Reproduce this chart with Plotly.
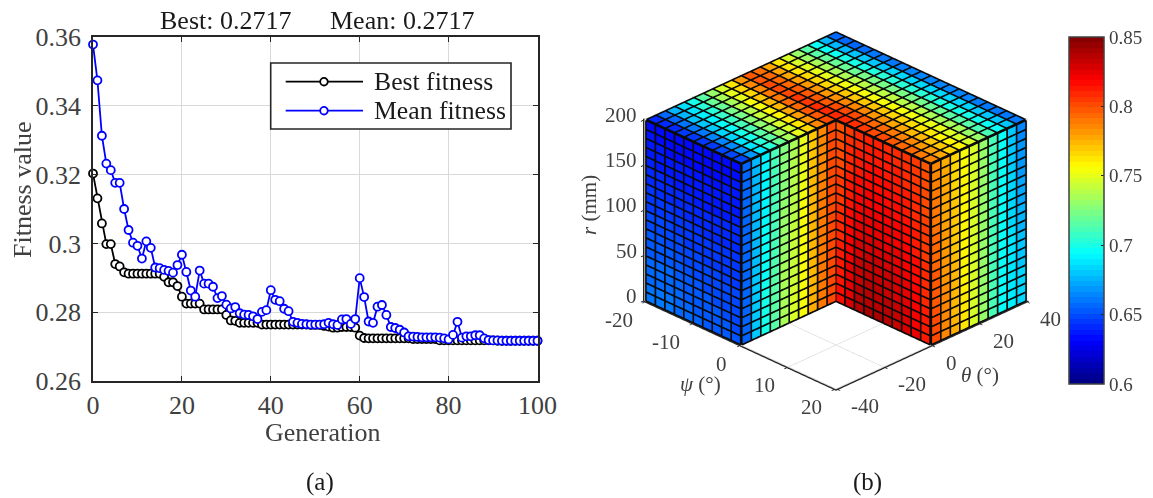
import plotly.graph_objects as go

W, H = 1153, 498
ML, MR, MT, MB = 60, 90, 10, 70
SERIF = "Liberation Serif"
INK = "#404040"
AX = "#262626"


def fx(px):
    return (px - ML) / (W - ML - MR)


def fy(py):
    return (H - MB - py) / (H - MT - MB)


generation = list(range(101))
best_fitness = [.3203,.3131,.3058,.2998,.2998,.2940,.2933,.2916,.2912,.2912,.2912,.2912,.2912,.2912,.2912,.2912,.2903,.2887,.2887,.2876,
 .2845,.2825,.2825,.2825,.2825,.2808,.2808,.2808,.2808,.2808,.2792,.2776,.2775,.2769,.2769,.2769,.2769,.2769,.2764,.2764,
 .2764,.2764,.2764,.2764,.2764,.2764,.2764,.2764,.2764,.2763,.2763,.2763,.2760,.2758,.2755,.2755,.2757,.2757,.2757,.2755,
 .2732,.2725,.2724,.2724,.2724,.2724,.2724,.2724,.2724,.2724,.2724,.2724,.2722,.2722,.2722,.2722,.2722,.2722,.2718,.2718,
 .2718,.2718,.2718,.2718,.2718,.2718,.2718,.2718,.2718,.2718,.2718,.2717,.2717,.2717,.2717,.2717,.2717,.2717,.2717,.2717,.2717]
mean_fitness = [.3578,.3474,.3313,.3232,.3213,.3176,.3176,.3100,.3039,.3002,.2993,.2956,.3006,.2987,.2930,.2928,.2923,.2920,.2915,.2937,
 .2967,.2917,.2863,.2845,.2921,.2883,.2883,.2874,.2841,.2847,.2822,.2811,.2815,.2797,.2793,.2792,.2788,.2780,.2801,.2806,
 .2864,.2836,.2832,.2810,.2803,.2772,.2769,.2766,.2765,.2764,.2764,.2764,.2765,.2769,.2765,.2763,.2779,.2780,.2766,.2780,
 .2899,.2844,.2773,.2769,.2816,.2821,.2792,.2757,.2754,.2749,.2741,.2730,.2729,.2728,.2727,.2727,.2727,.2727,.2726,.2724,
 .2721,.2734,.2772,.2726,.2730,.2730,.2733,.2733,.2724,.2719,.2718,.2718,.2717,.2717,.2717,.2717,.2717,.2717,.2717,.2717,.2717]

x_ticks = [0, 20, 40, 60, 80, 100]
y_ticks = [.26, .28, .30, .32, .34, .36]
y_labels = ["0.26", "0.28", "0.3", "0.32", "0.34", "0.36"]
psi_ticks = [-20, -10, 0, 10, 20]
theta_ticks = [-40, -20, 0, 20, 40]
r_ticks = [0, 50, 100, 150, 200]
cbar_ticks = [.6, .65, .7, .75, .8, .85]
cbar_labels = ["0.6", "0.65", "0.7", "0.75", "0.8", "0.85"]

psi_edges = [-20 + 2 * i for i in range(21)]
theta_edges = [-40 + 4 * i for i in range(21)]
r_edges = [10 * i for i in range(21)]

# cell values (per column at r=200 and r=0; rows listed top to bottom)
row_blend = [0,.05,.1,.15,.2,.25,.3,.36,.42,.48,.54,.6,.66,.72,.78,.83,.88,.92,.96,1]
left_top = [.634,.633,.632,.632,.632,.632,.632,.632,.633,.634]
left_bottom = [.66,.66,.66,.658,.656,.655,.654,.653,.652,.651]
front_top = [.655,.675,.69,.71,.725,.735,.75,.77,.785,.80]
front_bottom = [.655,.68,.70,.715,.735,.745,.755,.775,.79,.80]
red_top = [.798,.805,.808,.81,.81,.809,.808,.806,.803,.798]
red_bottom = [.815,.826,.836,.838,.838,.836,.832,.828,.822,.812]
right_top = [.785,.775,.765,.755,.745,.73,.71,.695,.68,.665]
right_bottom = [.80,.785,.775,.76,.745,.73,.71,.695,.69,.685]
top_psi_m20 = [.64,.655,.675,.685,.70,.715,.73,.745,.76,.78,.795,.79,.775,.76,.745,.73,.715,.695,.675,.655]
top_psi_0 = [.65,.67,.69,.705,.72,.735,.75,.765,.785,.80,.81,.80,.785,.77,.755,.74,.725,.705,.685,.665]
top_psi_p20 = [.65,.67,.69,.705,.72,.735,.75,.765,.78,.79,.785,.775,.765,.755,.745,.73,.71,.695,.68,.66]


def jet(t):
    f = lambda v: max(0.0, min(1.0, 1.5 - abs(4 * t - v)))
    return f"rgb({round(255*f(3))},{round(255*f(2))},{round(255*f(1))})"


colorscale = []
for n in range(64):
    c = jet((n + .5) / 64)
    colorscale += [[n / 64, c], [(n + 1) / 64, c]]

vx, vy, vz, ti, tj, tk, tv = [], [], [], [], [], [], []
lx, ly, lz = [], [], []


def add_quad(corners, value):
    n = len(vx)
    for a, b, c in corners:
        vx.append(a); vy.append(b); vz.append(c)
    ti.extend([n, n]); tj.extend([n + 1, n + 2]); tk.extend([n + 2, n + 3])
    tv.extend([value, value])


def add_edge(p, q):
    lx.extend([p[0], q[0], None]); ly.extend([p[1], q[1], None]); lz.extend([p[2], q[2], None])


E = 0.12
ER = 0.6


def face_psi(psi, cols, top, bottom):
    for i in range(10):
        for j in range(20):
            val = top[i] + row_blend[j] * (bottom[i] - top[i])
            r1, r0 = r_edges[20 - j], r_edges[19 - j]
            y0, y1 = theta_edges[cols + i], theta_edges[cols + i + 1]
            add_quad([(psi, y0, r0), (psi, y1, r0), (psi, y1, r1), (psi, y0, r1)], val)
    for i in range(11):
        y = theta_edges[cols + i]
        add_edge((psi + E, y, 0), (psi + E, y, 200))
    for r in r_edges:
        add_edge((psi + E, theta_edges[cols], r), (psi + E, theta_edges[cols + 10], r))


def face_theta(theta, cols, top, bottom):
    for i in range(10):
        for j in range(20):
            val = top[i] + row_blend[j] * (bottom[i] - top[i])
            r1, r0 = r_edges[20 - j], r_edges[19 - j]
            x0, x1 = psi_edges[cols + i], psi_edges[cols + i + 1]
            add_quad([(x0, theta, r0), (x1, theta, r0), (x1, theta, r1), (x0, theta, r1)], val)
    for i in range(11):
        x = psi_edges[cols + i]
        add_edge((x, theta - 2 * E, 0), (x, theta - 2 * E, 200))
    for r in r_edges:
        add_edge((psi_edges[cols], theta - 2 * E, r), (psi_edges[cols + 10], theta - 2 * E, r))


face_theta(-40, 0, left_top, left_bottom)
face_psi(0, 0, front_top, front_bottom)
face_theta(0, 10, red_top, red_bottom)
face_psi(20, 10, right_top, right_bottom)

for i in range(20):
    for j in range(20):
        if psi_edges[j] >= 0 and theta_edges[i] < 0:
            continue
        x0, x1, y0, y1 = psi_edges[j], psi_edges[j + 1], theta_edges[i], theta_edges[i + 1]
        if j < 10:
            val = top_psi_m20[i] + (j + .5) / 10 * (top_psi_0[i] - top_psi_m20[i])
        else:
            val = top_psi_0[i] + (j - 9.5) / 10 * (top_psi_p20[i] - top_psi_0[i])
        add_quad([(x0, y0, 200), (x1, y0, 200), (x1, y1, 200), (x0, y1, 200)], val)
for j in range(21):
    x = psi_edges[j]
    add_edge((x, 0 if x > 0 else -40, 200 + ER), (x, 40, 200 + ER))
for i in range(21):
    y = theta_edges[i]
    add_edge((-20, y, 200 + ER), (0 if y < 0 else 20, y, 200 + ER))

fig = go.Figure()

# ---- panel (a)
fig.add_trace(go.Scatter(x=generation, y=best_fitness, name="Best fitness", mode="lines+markers", cliponaxis=False, showlegend=False,
                         line=dict(color="#000000", width=1.8),
                         marker=dict(symbol="circle", size=8, color="white", line=dict(color="#000000", width=1.8))))
fig.add_trace(go.Scatter(x=generation, y=mean_fitness, name="Mean fitness", mode="lines+markers", cliponaxis=False, showlegend=False,
                         line=dict(color="#0000ff", width=1.8),
                         marker=dict(symbol="circle", size=8, color="white", line=dict(color="#0000ff", width=1.8))))

# ---- panel (b)
fig.add_trace(go.Mesh3d(x=vx, y=vy, z=vz, i=ti, j=tj, k=tk, intensity=tv, intensitymode="cell",
                        colorscale=colorscale, cmin=.6, cmax=.85, flatshading=True, hoverinfo="skip",
                        lighting=dict(ambient=1, diffuse=0, specular=0, roughness=1, fresnel=0),
                        showlegend=False,
                        colorbar=dict(x=fx(1069), xanchor="left", xpad=0, y=fy(384), yanchor="bottom", ypad=0,
                                      len=347 / (H - MT - MB), lenmode="fraction", thickness=35, thicknessmode="pixels",
                                      outlinecolor=INK, outlinewidth=1.5, tickvals=cbar_ticks, ticktext=cbar_labels,
                                      ticks="inside", ticklen=3, tickcolor=AX,
                                      tickfont=dict(family=SERIF, size=19, color=INK))))
fig.add_trace(go.Scatter3d(x=lx, y=ly, z=lz, mode="lines", line=dict(color="#0a0a0a", width=3.4),
                           hoverinfo="skip", showlegend=False))

scene_notes = []
note_font = dict(family=SERIF, size=21, color=INK)
for v in r_ticks:
    scene_notes.append(dict(x=-20, y=-40, z=v, text=str(v), showarrow=False, xanchor="right", yanchor="middle",
                            xshift=-8, yshift=5, font=note_font))
for v in psi_ticks:
    scene_notes.append(dict(x=v, y=-40, z=0, text=str(v), showarrow=False, xanchor="right", yanchor="middle",
                            xshift=-12, yshift=-19, font=note_font))
for v in theta_ticks:
    scene_notes.append(dict(x=20, y=v, z=0, text=str(v), showarrow=False, xanchor="left", yanchor="middle",
                            xshift=13, yshift=-18, font=note_font))
scene_notes.append(dict(x=0, y=-40, z=0, text="<i>ψ</i> (°)", showarrow=False, xshift=-41, yshift=-39, font=note_font))
scene_notes.append(dict(x=20, y=0, z=0, text="<i>θ</i> (°)", showarrow=False, xshift=49, yshift=-30, font=note_font))
scene_notes.append(dict(x=-20, y=-40, z=100, text="<i>r</i> (mm)", showarrow=False, textangle=-90, xshift=-57, yshift=5,
                        font=note_font))

axis3d = dict(showbackground=False, showgrid=True, gridcolor="#cfcfcf", gridwidth=1.3, zeroline=False,
              showline=True, linecolor=AX, linewidth=3, ticks="outside", ticklen=4, tickcolor=AX, tickwidth=2,
              showticklabels=False, title=dict(text=""), showspikes=False)

paper_notes = [
    dict(x=225, y=20, text="Best: 0.2717", size=26),
    dict(x=402, y=20, text="Mean: 0.2717", size=26),
    dict(x=320, y=482, text="(a)", size=25),
    dict(x=867, y=482, text="(b)", size=25),
    dict(x=371.5, y=81, text="Best fitness", size=25.7, anchor="left"),
    dict(x=371.5, y=110, text="Mean fitness", size=25.7, anchor="left"),
    dict(x=323, y=432, text="Generation", size=26, color=INK),
    dict(x=22, y=190, text="Fitness value", size=26, angle=-90, color=INK),
]

legend_rows = [(81.7, "#000000"), (110.7, "#0000ff")]
shapes = [dict(type="rect", xref="paper", yref="paper", x0=fx(270.7), x1=fx(511), y0=fy(129), y1=fy(63), layer="above",
               fillcolor="white", line=dict(color=AX, width=1.6))]
for ry, col in legend_rows:
    shapes.append(dict(type="line", xref="paper", yref="paper", x0=fx(285.7), x1=fx(363), y0=fy(ry), y1=fy(ry), layer="above",
                       line=dict(color=col, width=1.8)))
    shapes.append(dict(type="circle", xref="paper", yref="paper", x0=fx(320.2), x1=fx(327.8), y0=fy(ry + 3.8), y1=fy(ry - 3.8),
                       layer="above", fillcolor="white", line=dict(color=col, width=1.8)))

fig.update_layout(
    width=W, height=H, autosize=False, margin=dict(l=ML, r=MR, t=MT, b=MB, autoexpand=False),
    paper_bgcolor="white", plot_bgcolor="white", showlegend=False,
    font=dict(family=SERIF, color=INK, size=26),
    shapes=shapes,
    xaxis=dict(domain=[fx(93), fx(537.5)], range=[0, 100], tickvals=x_ticks, ticks="inside", ticklen=5, tickcolor=AX,
               showline=True, linecolor=AX, linewidth=1.6, mirror="allticks", showgrid=True, gridcolor="#d9d9d9",
               gridwidth=1.4, zeroline=False, tickfont=dict(size=26)),
    yaxis=dict(domain=[fy(381), fy(37)], range=[.26, .36], tickvals=y_ticks, ticktext=y_labels, ticks="inside",
               ticklen=5, tickcolor=AX, showline=True, linecolor=AX, linewidth=1.6, mirror="allticks", showgrid=True,
               gridcolor="#d9d9d9", gridwidth=1.4, zeroline=False, tickfont=dict(size=26), ticklabelstandoff=5),
    scene=dict(domain=dict(x=[fx(609), fx(1063)], y=[fy(410), fy(10)]),
               camera=dict(projection=dict(type="orthographic"), eye=dict(x=.923, y=-.923, z=0.68), center=dict(x=0, y=0, z=0),
                           up=dict(x=0, y=0, z=1)),
               aspectmode="manual", aspectratio=dict(x=1.36, y=1.36, z=1.029),
               xaxis=dict(range=[-20.3, 20.3], tickvals=psi_ticks, **axis3d),
               yaxis=dict(range=[-40.6, 40.6], tickvals=theta_ticks, **axis3d),
               zaxis=dict(range=[-0.5, 201.5], tickvals=r_ticks, **axis3d),
               annotations=scene_notes),
    annotations=[dict(xref="paper", yref="paper", x=fx(n["x"]), y=fy(n["y"]), text=n["text"], showarrow=False,
                      xanchor=n.get("anchor", "center"), yanchor="middle", textangle=n.get("angle", 0),
                      font=dict(family=SERIF, size=n["size"], color=n.get("color", "#1a1a1a"))) for n in paper_notes],
)

fig.write_html("out.html", config=dict(displayModeBar=False),
               post_script="document.body.style.margin='0';document.body.style.overflow='hidden';")
